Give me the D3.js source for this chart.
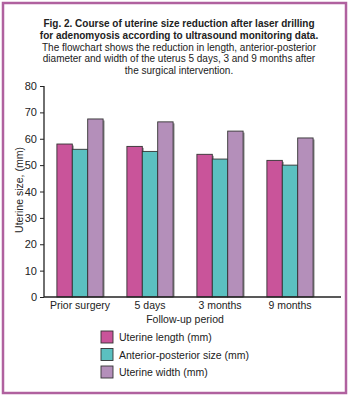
<!DOCTYPE html>
<html>
<head>
<meta charset="utf-8">
<script src="https://cdn.jsdelivr.net/npm/d3@7"></script>
<style>
  body { margin: 0; background: #fff; }
  text { font-family: "Liberation Sans", Arial, sans-serif; fill: #222; }
</style>
</head>
<body>
<div id="chart-area"></div>
<script>
const periods = ["Prior surgery", "5 days", "3 months", "9 months"];
const seriesNames = ["Uterine length (mm)", "Anterior-posterior size (mm)", "Uterine width (mm)"];
const lengthVals = [58, 57.1, 54.1, 51.8];
const apVals = [56, 55.2, 52.3, 50];
const widthVals = [67.5, 66.4, 62.9, 60.3];
const yTicks = [0, 10, 20, 30, 40, 50, 60, 70, 80];
const colors = ["#c9549a", "#5bc0c0", "#b48fba"];

const titleLines = [
  { t: "Fig. 2. Course of uterine size reduction after laser drilling", b: true },
  { t: "for adenomyosis according to ultrasound monitoring data.", b: true },
  { t: "The flowchart shows the reduction in length, anterior-posterior", b: false },
  { t: "diameter and width of the uterus 5 days, 3 and 9 months after", b: false },
  { t: "the surgical intervention.", b: false }
];

const series = [lengthVals, apVals, widthVals];
const data = periods.map((p, i) => ({ period: p, values: series.map(s => s[i]) }));

const svgWidth = 350;
const svgHeight = 399;

const svg = d3.select("#chart-area")
  .append("svg")
  .attr("width", svgWidth)
  .attr("height", svgHeight);

// frame
svg.append("rect")
  .attr("x", 3).attr("y", 3)
  .attr("width", 343).attr("height", 390)
  .attr("fill", "none")
  .attr("stroke", "#b0619f")
  .attr("stroke-width", 2.5);

// title
svg.selectAll(".title")
  .data(titleLines)
  .enter()
  .append("text")
    .attr("class", "title")
    .attr("x", 179)
    .attr("y", (d, i) => 27 + i * 11.8)
    .attr("text-anchor", "middle")
    .style("font-size", "10px")
    .style("font-weight", d => d.b ? "bold" : "normal")
    .text(d => d.t);

const x = d3.scaleBand()
  .domain(periods)
  .range([45, 325])
  .paddingInner(0.34)
  .paddingOuter(0.17);

const xSub = d3.scaleBand()
  .domain(d3.range(series.length))
  .range([0, x.bandwidth()]);

const y = d3.scaleLinear()
  .domain([0, 80])
  .range([297, 86]);

// y axis
const yAxis = svg.append("g")
  .attr("transform", "translate(44,0)")
  .call(d3.axisLeft(y).tickValues(yTicks).tickSize(4).tickPadding(3));
yAxis.select(".domain").attr("stroke", "#222").attr("stroke-width", 1.3).attr("d", `M0,${y(80)}V${y(0)}`);
yAxis.selectAll(".tick line").attr("stroke", "#222");
yAxis.selectAll(".tick text")
  .style("font-size", "11px")
  .style("font-family", "Liberation Sans, Arial, sans-serif")
  .attr("fill", "#222");

svg.append("text")
  .attr("text-anchor", "middle")
  .attr("transform", "rotate(-90)")
  .attr("x", -190)
  .attr("y", 23)
  .style("font-size", "10.5px")
  .text("Uterine size, (mm)");

// bars
const groups = svg.selectAll(".group")
  .data(data)
  .enter()
  .append("g")
    .attr("class", "group")
    .attr("transform", d => `translate(${x(d.period)},0)`);

// drop shadow
groups.selectAll(".shadow")
  .data(d => d.values)
  .enter()
  .append("rect")
    .attr("class", "shadow")
    .attr("x", (d, i) => xSub(i) + 1.5)
    .attr("y", d => y(d) + 1.5)
    .attr("width", xSub.bandwidth())
    .attr("height", d => y(0) - y(d) - 1.5)
    .attr("fill", "#999");

groups.selectAll(".bar")
  .data(d => d.values)
  .enter()
  .append("rect")
    .attr("class", "bar")
    .attr("x", (d, i) => xSub(i))
    .attr("y", d => y(d))
    .attr("width", xSub.bandwidth())
    .attr("height", d => y(0) - y(d))
    .attr("fill", (d, i) => colors[i])
    .attr("stroke", "#333")
    .attr("stroke-width", 0.9);

// x axis
const xAxis = svg.append("g")
  .attr("transform", `translate(0,${y(0)})`)
  .call(d3.axisBottom(x).tickSize(0).tickPadding(5));
xAxis.select(".domain").attr("stroke", "#222").attr("stroke-width", 1.3).attr("d", "M44,0H341");
xAxis.selectAll(".tick text")
  .style("font-size", "10.5px")
  .style("font-family", "Liberation Sans, Arial, sans-serif")
  .attr("fill", "#222");

svg.append("text")
  .attr("x", 185)
  .attr("y", 323)
  .attr("text-anchor", "middle")
  .style("font-size", "10.5px")
  .text("Follow-up period");

// legend
const legend = svg.selectAll(".legend")
  .data(seriesNames)
  .enter()
  .append("g")
    .attr("class", "legend")
    .attr("transform", (d, i) => `translate(101,${331 + i * 17.5})`);

legend.append("rect")
  .attr("width", 12)
  .attr("height", 12)
  .attr("fill", (d, i) => colors[i])
  .attr("stroke", "#333")
  .attr("stroke-width", 0.9);

legend.append("text")
  .attr("x", 18)
  .attr("y", 10)
  .style("font-size", "10.5px")
  .text(d => d);
</script>
</body>
</html>
